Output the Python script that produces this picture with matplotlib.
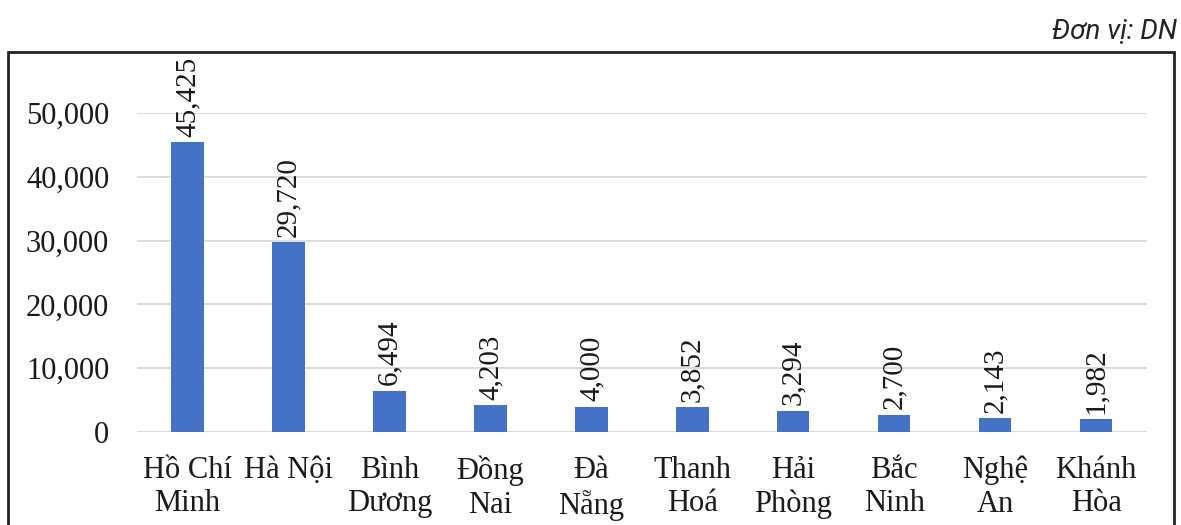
import matplotlib.pyplot as plt
from matplotlib.patches import Rectangle

# data
provinces = ["Hồ Chí\nMinh", "Hà Nội", "Bình\nDương", "Đồng\nNai", "Đà\nNẵng",
             "Thanh\nHoá", "Hải\nPhòng", "Bắc\nNinh", "Nghệ\nAn", "Khánh\nHòa"]
counts = [45425, 29720, 6494, 4203, 4000, 3852, 3294, 2700, 2143, 1982]
yticks = [0, 10000, 20000, 30000, 40000, 50000]

plt.rcParams['font.family'] = ['Liberation Serif', 'DejaVu Serif']

fig = plt.figure(figsize=(11.81, 5.25), dpi=100)
ax = fig.add_axes([0.116, 0.177, 0.855, 0.608])

x = list(range(len(counts)))
bars = ax.bar(x, counts, width=0.32, color='#4472C4', zorder=3)

for b, v in zip(bars, counts):
    ax.annotate(f"{v:,}", (b.get_x() + b.get_width() / 2, v),
                xytext=(0, 4), textcoords='offset points',
                rotation=90, ha='center', va='bottom',
                fontsize=21, color='#1a1a1a', annotation_clip=False)

ax.set_xlim(-0.5, len(counts) - 0.5)
ax.set_ylim(0, 50000)
ax.set_yticks(yticks)
ax.set_yticklabels([f"{t:,}" for t in yticks], fontsize=22, color='#1a1a1a')
ax.set_xticks(x)
ax.set_xticklabels(provinces, fontsize=22, color='#1a1a1a', linespacing=1.2)
ax.tick_params(axis='y', length=0, pad=20)
ax.tick_params(axis='x', length=0, pad=17)
ax.grid(axis='y', color='#d9d9d9', lw=1.3, zorder=0)
for s in ax.spines.values():
    s.set_visible(False)

# outer frame
fig.patches.append(Rectangle((0.0068, -0.02), 0.987, 0.921, transform=fig.transFigure,
                             fill=False, edgecolor='#222222', lw=2))

fig.text(0.997, 0.94, "Đơn vị: DN", ha='right', va='center', style='italic',
         fontsize=20, family=['Roboto', 'DejaVu Sans'], color='#222222')

fig.savefig('out.png', dpi=100)
